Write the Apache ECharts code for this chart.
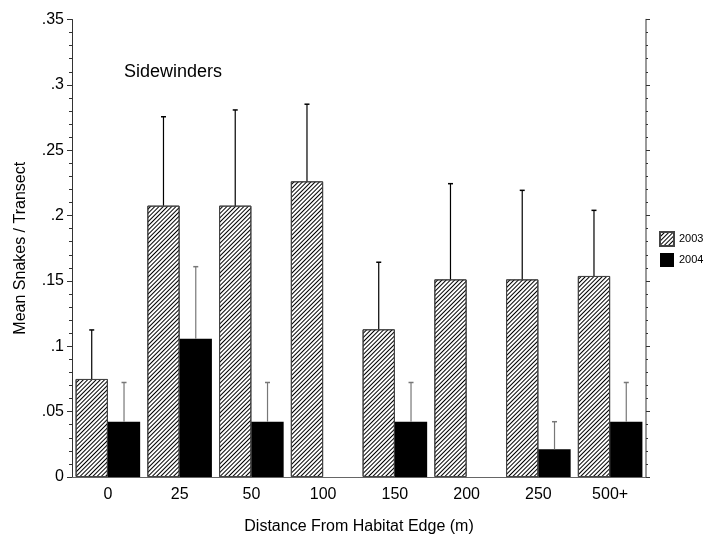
<!DOCTYPE html>
<html>
<head>
<meta charset="utf-8">
<script src="https://cdn.jsdelivr.net/npm/echarts@6/dist/echarts.min.js"></script>
<style>
  html, body { margin: 0; padding: 0; background: #fff; }
  #chart { width: 719px; height: 538px; }
</style>
</head>
<body>
<div id="chart"></div>
<script>
// distance categories
const categories = ['0', '25', '50', '100', '150', '200', '250', '500+']
// 2003 means and upper error
const mean2003 = [0.075, 0.2076, 0.2076, 0.2262, 0.113, 0.1512, 0.1512, 0.1538]
const err2003 = [0.0375, 0.068, 0.0732, 0.059, 0.0513, 0.0732, 0.0681, 0.0502]
// 2004 means and upper error
const mean2004 = [0.0423, 0.1058, 0.0423, 0, 0.0423, 0, 0.0212, 0.0423]
const err2004 = [0.03, 0.0551, 0.03, 0, 0.03, 0, 0.0211, 0.03]
const yTickLabels = ['0', '.05', '.1', '.15', '.2', '.25', '.3', '.35']

const font = 'Liberation Sans, Arial, sans-serif'
const catGap = 0.1

// error bar drawer, side = -1 for left bar, +1 for right bar
function errorBar(side, color) {
  return function (params, api) {
    const e = api.value(2)
    if (!e) return
    const idx = api.value(0)
    const v = api.value(1)
    const band = api.size([1, 0])[0]
    const barW = (band * (1 - catGap)) / 2
    const p0 = api.coord([idx, v])
    const p1 = api.coord([idx, v + e])
    const x = p0[0] + (side * barW) / 2
    return {
      type: 'group',
      children: [
        { type: 'line', shape: { x1: x, y1: p0[1], x2: x, y2: p1[1] }, style: { stroke: color, lineWidth: 1.2 } },
        { type: 'line', shape: { x1: x - 2.5, y1: p1[1], x2: x + 2.5, y2: p1[1] }, style: { stroke: color, lineWidth: 1.5 } },
      ],
    }
  }
}

let myChart = echarts.init(document.getElementById('chart'))
myChart.setOption({
  animation: false,
  textStyle: { fontFamily: font },
  title: {
    text: 'Sidewinders',
    left: 124,
    top: 63,
    padding: 0,
    textStyle: { fontFamily: font, fontSize: 18, fontWeight: 'normal', color: '#000' },
  },
  legend: {
    orient: 'vertical',
    left: 659,
    top: 231,
    padding: 0,
    itemWidth: 14,
    itemHeight: 14,
    itemGap: 6,
    icon: 'rect',
    textStyle: { fontFamily: font, fontSize: 11, color: '#000' },
    data: ['2003', '2004'],
  },
  grid: { left: 72, right: 73, top: 19.5, bottom: 61, outerBoundsMode: 'none', containLabel: false },
  xAxis: [
    {
      type: 'category',
      data: categories,
      position: 'bottom',
      name: 'Distance From Habitat Edge (m)',
      nameLocation: 'middle',
      nameGap: 42,
      nameTextStyle: { fontFamily: font, fontSize: 16, color: '#000' },
      axisLine: { lineStyle: { color: '#333', width: 1 } },
      axisTick: { alignWithLabel: true, length: 4, lineStyle: { color: '#333' } },
      axisLabel: { margin: 10, fontFamily: font, fontSize: 16, color: '#000' },
      splitLine: { show: false },
    },
    {
      type: 'category',
      data: categories,
      position: 'top',
      axisLine: { lineStyle: { color: '#666', width: 1 } },
      axisTick: { alignWithLabel: true, length: 2, lineStyle: { color: '#333' } },
      axisLabel: { show: false },
    },
  ],
  yAxis: [
    {
      type: 'value',
      min: 0,
      max: 0.35,
      interval: 0.05,
      name: 'Mean Snakes / Transect',
      nameLocation: 'middle',
      nameGap: 43,
      nameTextStyle: { fontFamily: font, fontSize: 16, color: '#000' },
      axisLine: { show: true, lineStyle: { color: '#333', width: 1 } },
      axisTick: { show: true, length: 5, lineStyle: { color: '#333' } },
      minorTick: { show: true, splitNumber: 5, length: 3, lineStyle: { color: '#333' } },
      axisLabel: {
        margin: 8,
        fontFamily: font,
        fontSize: 16,
        color: '#000',
        formatter: (v) => yTickLabels[Math.round(v / 0.05)],
      },
      splitLine: { show: false },
    },
    {
      type: 'value',
      min: 0,
      max: 0.35,
      interval: 0.05,
      position: 'right',
      axisLine: { show: true, lineStyle: { color: '#777', width: 1.5 } },
      axisTick: { show: true, length: 4, lineStyle: { color: '#333' } },
      minorTick: { show: true, splitNumber: 5, length: 2, lineStyle: { color: '#333' } },
      axisLabel: { show: false },
      splitLine: { show: false },
    },
  ],
  series: [
    {
      name: '2003',
      type: 'bar',
      barGap: 0,
      barCategoryGap: '10%',
      itemStyle: {
        color: '#fff',
        borderColor: '#444',
        borderWidth: 1,
        decal: {
          symbol: 'rect',
          symbolSize: 1,
          dashArrayX: [1, 0],
          dashArrayY: [1, 2],
          rotation: -Math.PI / 4,
          color: '#000',
        },
      },
      data: mean2003,
      z: 2,
    },
    {
      name: '2004',
      type: 'bar',
      barGap: 0,
      barCategoryGap: '10%',
      itemStyle: { color: '#000' },
      data: mean2004,
      z: 2,
    },
    {
      type: 'custom',
      renderItem: errorBar(-1, '#000'),
      data: categories.map((c, i) => [i, mean2003[i], err2003[i]]),
      z: 3,
      silent: true,
    },
    {
      type: 'custom',
      renderItem: errorBar(1, '#777'),
      data: categories.map((c, i) => [i, mean2004[i], err2004[i]]),
      z: 3,
      silent: true,
    },
  ],
})
</script>
</body>
</html>
